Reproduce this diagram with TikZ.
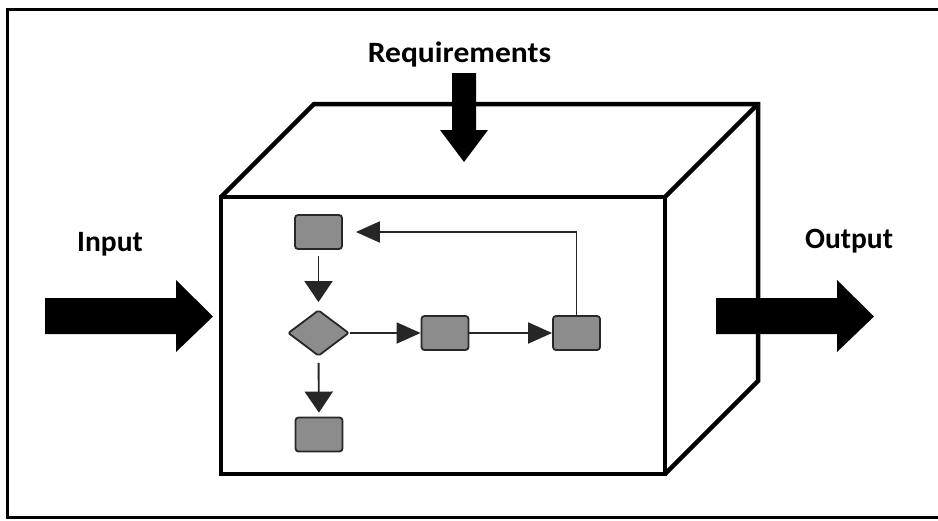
\documentclass[tikz,border=0pt]{standalone}
\usepackage{fontspec}
\setmainfont{Carlito}
\usetikzlibrary{arrows.meta,shapes.geometric}

\definecolor{stepfill}{RGB}{140,140,140}
\definecolor{stepedge}{RGB}{40,40,40}

\tikzset{
  lbl/.style={font=\fontsize{29.5}{32}\selectfont\bfseries, inner sep=0pt, anchor=base},
  boxedge/.style={line width=4.5pt, line join=miter, draw=black},
  blockarrow/.style={fill=black, draw=none},
  stepbox/.style={draw=stepedge, fill=stepfill, line width=1.8pt, rounded corners=3pt,
    minimum width=47pt, minimum height=34pt, inner sep=0pt},
  decision/.style={diamond, draw=stepedge, fill=stepfill, line width=1.8pt, rounded corners=2pt,
    minimum width=61pt, minimum height=46pt, inner sep=0pt},
  flow/.style={line width=1.9pt, draw=black!85},
  vflow/.style={flow, -{Triangle[length=21pt,width=28pt]}},
  hflow/.style={flow, -{Triangle[length=24pt,width=21pt]}},
}

\begin{document}
\begin{tikzpicture}[x=1pt, y=-1pt]
  \useasboundingbox (0,0) rectangle (938,520);
  \clip (0,0) rectangle (938,520);
  \fill[white] (0,0) rectangle (938,520);

  % outer frame (open on the right)
  \draw[line width=3.5pt] (950,9.5) -- (7.5,9.5) -- (7.5,517.5) -- (950,517.5);

  % the black box: front face, then the outline of top and right faces
  \draw[boxedge] (221,197) rectangle (665,474);
  \draw[boxedge] (221,197) -- (314,104) -- (758,104) -- (758,381) -- (665,474);
  \draw[boxedge] (665,197) -- (758,104);

  % labels
  \node[lbl] (req) at (459.5,62) {\scalebox{1.07}[1]{Requirements}};
  \node[lbl] (in)  at (110,251) {Input};
  \node[lbl] (out) at (849,248) {Output};

  % requirements arrow (down into the box)
  \fill[blockarrow] (452,73) -- (476,73) -- (476,130) -- (488,130) -- (464,162)
    -- (440,130) -- (452,130) -- cycle;
  % input arrow
  \fill[blockarrow] (45,298) -- (176,298) -- (176,280) -- (213,316.5) -- (176,352)
    -- (176,334) -- (45,334) -- cycle;
  % output arrow
  \fill[blockarrow] (716,298) -- (837,298) -- (837,280) -- (874,316.5) -- (837,352)
    -- (837,334) -- (716,334) -- cycle;

  % process steps inside the box
  \node[stepbox]  (s1) at (318.5,232) {};
  \node[decision] (d)  at (318.5,333) {};
  \node[stepbox]  (s2) at (445,333) {};
  \node[stepbox]  (s3) at (576.5,333) {};
  \node[stepbox]  (s4) at (319,434.5) {};

  \draw[vflow, shorten <=6pt, shorten >=7pt] (s1.south) -- (d.north);
  \draw[vflow, shorten <=6pt, shorten >=4pt] (d.south) -- (s4.north);
  \draw[hflow] (d.east) -- (s2.west);
  \draw[hflow] (s2.east) -- (s3.west);
  \draw[hflow, shorten >=13pt] (s3.north) |- (s1.east);
\end{tikzpicture}
\end{document}
